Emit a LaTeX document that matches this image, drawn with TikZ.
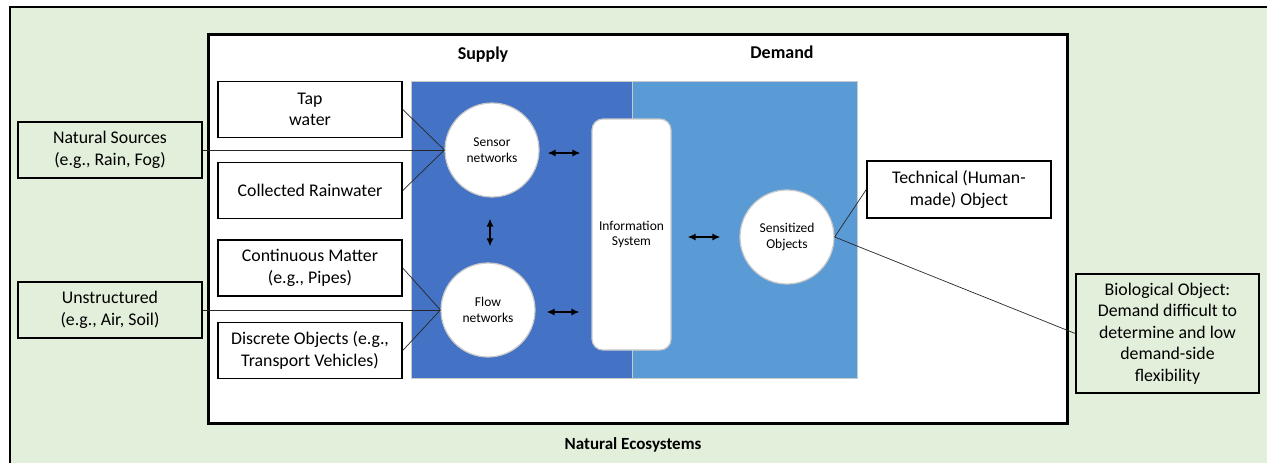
\documentclass[tikz,border=0pt]{standalone}
\usepackage{fontspec}
\setmainfont{Carlito}
\usetikzlibrary{arrows.meta,calc}
\definecolor{natgreen}{HTML}{E2EFDA}
\definecolor{darkblue}{HTML}{4472C4}
\definecolor{lightblue}{HTML}{5B9BD5}
\definecolor{rimgrey}{HTML}{C9C9C9}
\tikzset{
  box/.style={draw=black, line width=1.5pt, fill=white, minimum width=184pt, minimum height=56pt, inner sep=2pt, align=center, font=\fontsize{17.8}{21.5}\selectfont},
  gbox/.style={box, fill=natgreen},
  circ/.style={circle, draw=rimgrey, line width=1.2pt, fill=white, minimum size=94pt, inner sep=0pt, align=center, font=\fontsize{13.5}{15.5}\selectfont},
  link/.style={draw=black!85, line width=0.7pt},
  dbl/.style={line width=1.4pt, {Latex[length=8pt,width=7pt]}-{Latex[length=8pt,width=7pt]}},
  title/.style={font=\bfseries\fontsize{18}{22}\selectfont}
}
\begin{document}
\begin{tikzpicture}[x=1pt,y=-1pt]
\useasboundingbox (0,0) rectangle (1267,463);
% outer natural ecosystems
\begin{scope}
\clip (0,0) rectangle (1267,463);
\draw[fill=natgreen, line width=2pt] (10,7) rectangle (1300,500);
\end{scope}
% inner white box
\draw[fill=white, line width=3pt] (208,34) rectangle (1067,423);
% panels
\fill[darkblue] (411,81) rectangle (632,378);
\fill[lightblue] (632,81) rectangle (857,378);
\draw[rimgrey, line width=1pt] (411,81) rectangle (857,378);
\draw[rimgrey, line width=0.8pt] (632,81) -- (632,378);
% titles
\node[title] (supply) at (483,55) {Supply};
\node[title] (demand) at (782,52) {Demand};
\node[font=\bfseries\fontsize{17}{20}\selectfont] (eco) at (633,445) {Natural Ecosystems};
% circles and info system
\node[circ] (sensor) at (492,150) {Sensor\\networks};
\node[circ] (flow) at (488,310) {Flow\\networks};
\node[circ] (sens) at (787,237) {Sensitized\\Objects};
\node[draw=rimgrey, line width=1.2pt, fill=white, rounded corners=11pt, minimum width=79pt, minimum height=231pt, inner sep=0pt, align=center, font=\fontsize{13.5}{15.5}\selectfont] (info) at (631.5,234.5) {Information\\System};
% left boxes
\node[box] (tap) at (310,109.5) {Tap\\water};
\node[box] (rain) at (310,190.5) {Collected Rainwater};
\node[box] (cont) at (310,268) {Continuous Matter\\(e.g., Pipes)};
\node[box] (disc) at (310,350.5) {Discrete Objects (e.g.,\\Transport Vehicles)};
\node[gbox] (nat) at (110,150) {Natural Sources\\(e.g., Rain, Fog)};
\node[gbox] (unst) at (110,310) {Unstructured\\(e.g., Air, Soil)};
\node[box, minimum height=57pt] (tech) at (959,189.5) {Technical (Human-\\made) Object};
\node[gbox, minimum width=183pt, minimum height=119pt] (bio) at (1167.5,333.5) {Biological Object:\\Demand difficult to\\determine and low\\demand-side\\flexibility};
% links
\draw[link] (tap.east) -- (sensor.west);
\draw[link] (rain.east) -- (sensor.west);
\draw[link] (nat.east) -- (sensor.west);
\draw[link] (cont.east) -- (flow.west);
\draw[link] (disc.east) -- (flow.west);
\draw[link] (unst.east) -- (flow.west);
\draw[link] (sens.east) -- (tech.west);
\draw[link] (sens.east) -- (bio.west);
% arrows
\draw[dbl, shorten <=8pt, shorten >=11pt] ($(sensor.east)+(0,3)$) -- ($(sensor.east -| info.west)+(0,3)$);
\draw[dbl, shorten <=11pt, shorten >=12pt] ($(flow.east)+(0,2)$) -- ($(flow.east -| info.west)+(0,2)$);
\draw[dbl, shorten <=21pt, shorten >=16pt] (sensor.south -| 490,0) -- (flow.north -| 490,0);
\draw[dbl, shorten <=16pt, shorten >=19pt] (info.east |- sens.west) -- (sens.west);
\end{tikzpicture}
\end{document}
